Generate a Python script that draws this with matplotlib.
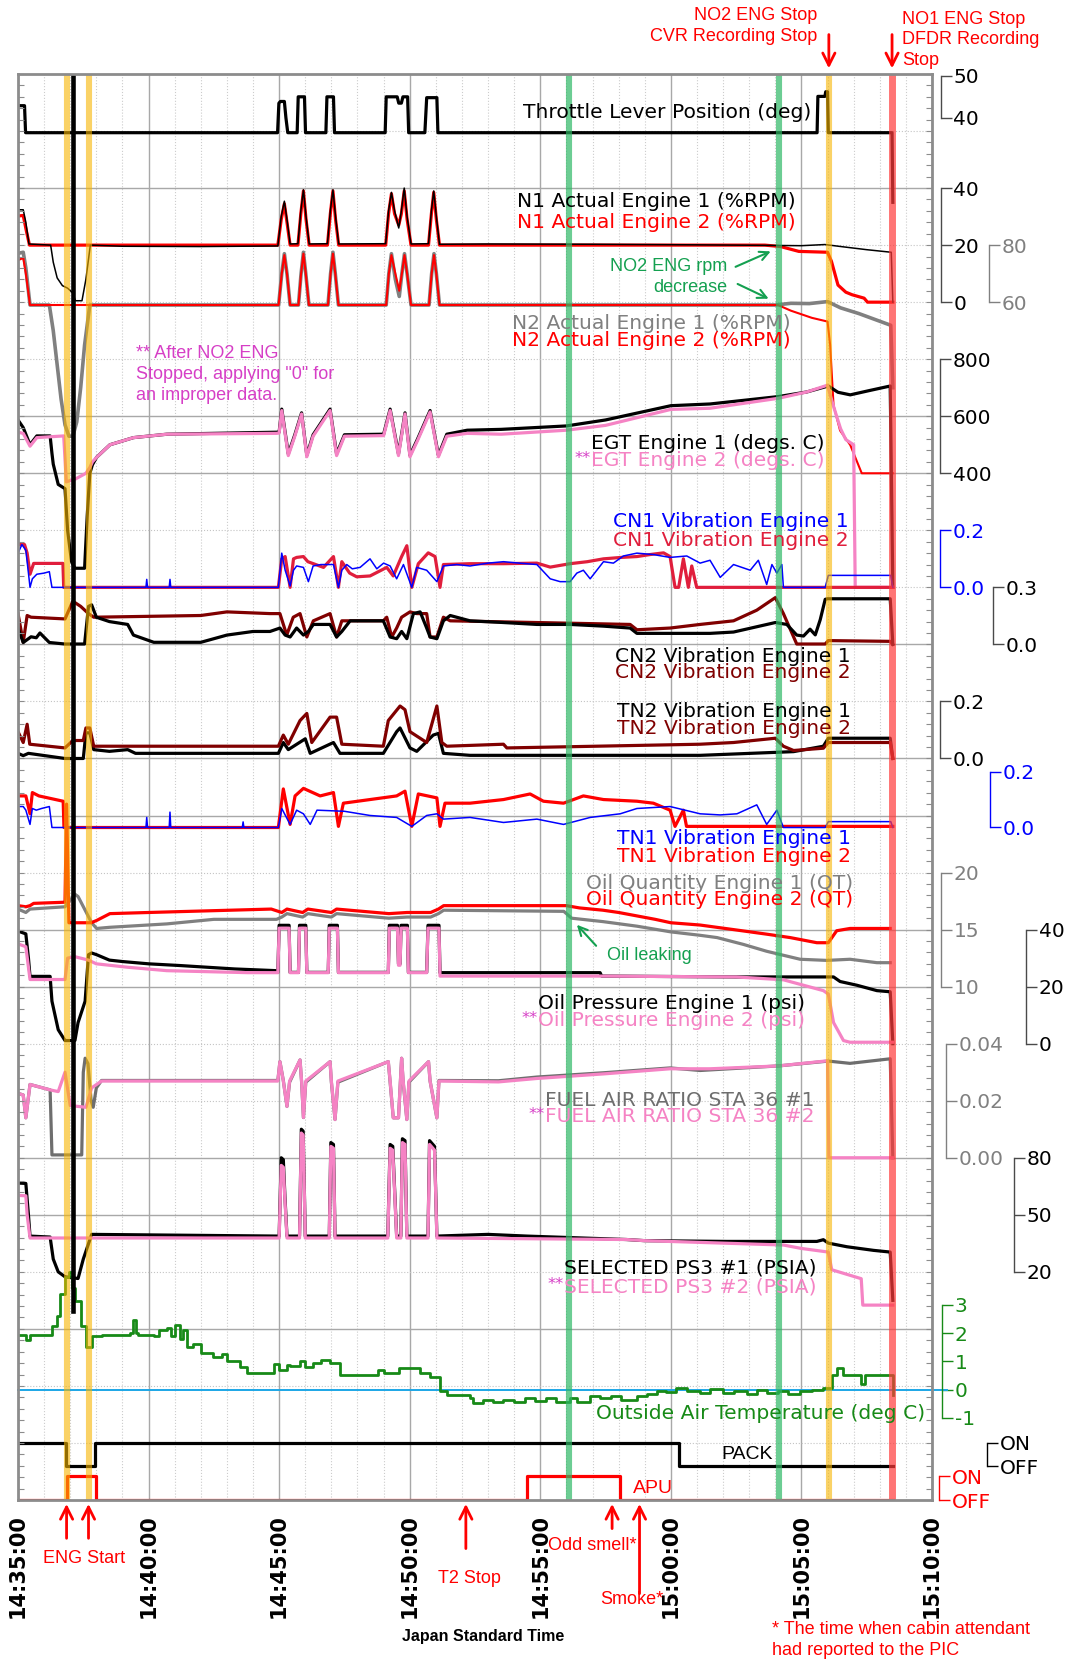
#!/usr/bin/env python3
"""Strip chart of DFDR engine parameters, 14:35-15:10 Japan Standard Time."""

from __future__ import annotations

import matplotlib

matplotlib.use("Agg")
import matplotlib.pyplot as plt
import numpy as np

# ---------------------------------------------------------------------------
# Data: time in minutes after 14:35:00.
# ---------------------------------------------------------------------------
time_ticks = [0, 5, 10, 15, 20, 25, 30, 35]
time_labels = ["14:35:00", "14:40:00", "14:45:00", "14:50:00",
               "14:55:00", "15:00:00", "15:05:00", "15:10:00"]

thr_t = [0, 0.25, 0.29, 9.94, 9.99, 10.05, 10.2, 10.26, 10.33, 10.69, 10.73, 10.97, 11.01,
         11.79, 11.83, 12.08, 12.12, 14.06, 14.1, 14.52, 14.58, 14.68, 14.74, 14.92, 14.96,
         15.58, 15.65, 16.04, 16.08, 30.6, 30.63, 30.9, 30.93, 31.0, 31.03, 33.47, 33.5]
thr_v = [42.9, 42.9, 36.5, 36.5, 43.5, 43.9, 43.9, 40, 36.5, 36.5, 45, 45, 36.5,
         36.5, 45, 45, 36.5, 36.5, 45, 45, 43.5, 43.5, 45, 45, 36.5,
         36.5, 44.8, 44.8, 36.5, 36.5, 45.1, 45.1, 46.2, 46.2, 36.5, 36.5, 20]

n1_e1_t = [0, 0.2, 0.3, 0.42, 1.25, 1.35, 1.5, 1.7, 1.9, 2.1, 2.2, 2.45, 2.6, 2.77, 4.0, 7.0,
           9.95, 10.08, 10.2, 10.3, 10.42, 10.72, 10.83, 10.93, 11.03, 11.15, 11.85, 11.96,
           12.06, 12.16, 12.28, 14.08, 14.19, 14.3, 14.42, 14.58, 14.68, 14.79, 14.9, 15.05,
           15.72, 15.83, 15.92, 16.02, 16.14, 18.0, 22.0, 26.0, 28.8, 30.0, 30.9, 31.6, 32.5,
           33.44, 33.5]
n1_e1_v = [32.4, 32.4, 28, 20.4, 20, 14, 8.5, 5.8, 4.9, 3.2, 0.5, 0.5, 8, 20, 19.6, 19.5,
           19.7, 30, 35.4, 29, 20.4, 20.5, 32, 39.4, 30, 20.4, 20.5, 32,
           39.4, 30, 20.4, 20.5, 32, 38.5, 32, 26, 32, 40, 30, 20.4,
           20.5, 32, 39, 30, 20.3, 20.4, 20.3, 20.1, 19.9, 19.8, 20.2, 19.4, 18.4,
           17.5, 0]
n1_e2_t = [0, 0.2, 0.32, 0.44, 9.95, 10.08, 10.2, 10.3, 10.42, 10.72, 10.83, 10.93, 11.03,
           11.15, 11.85, 11.96, 12.06, 12.16, 12.28, 14.08, 14.19, 14.3, 14.42, 14.58, 14.68,
           14.79, 14.9, 15.05, 15.72, 15.83, 15.92, 16.02, 16.14, 28.6, 29.2, 29.9, 31.0,
           31.15, 31.4, 31.7, 31.94, 32.4, 32.53, 33.5]
n1_e2_v = [30.2, 30.4, 25, 20, 20, 29, 34.5, 28, 20, 20, 31, 39, 29,
           20, 20, 31, 39, 29, 20, 20, 31, 38, 31, 27, 31,
           39, 29, 20, 20, 31, 38.5, 29, 20, 20, 19.5, 17.8, 17.5,
           14.3, 6, 3.5, 2.6, 1.4, 0, 0]

n2_e1_t = [0, 0.2, 0.3, 0.46, 1.2, 1.35, 1.5, 1.65, 1.8, 1.95, 2.1, 2.25, 2.4, 2.55, 2.75,
           9.98, 10.1, 10.2, 10.3, 10.42, 10.74, 10.84, 10.93, 11.02, 11.14, 11.87, 11.97,
           12.06, 12.15, 12.27, 14.1, 14.2, 14.3, 14.45, 14.6, 14.7, 14.8, 14.9, 15.05, 15.74,
           15.84, 15.93, 16.02, 16.14, 29.0, 29.6, 30.3, 31.0, 31.5, 32.2, 33.42, 33.5]
n2_e1_v = [77.1, 77.5, 72, 59, 59, 50, 38, 26, 17, 13, 13, 18, 30, 45, 59,
           59, 70, 77, 70, 59, 59, 70, 77.5, 70, 59, 59, 70,
           77.5, 70, 59, 59, 70, 77, 68, 62, 70, 77, 70, 59, 59,
           70, 77, 70, 59, 59, 59.6, 59.5, 60.2, 58, 56, 51.9, 30]
n2_e2_t = [0, 0.2, 0.3, 0.46, 9.98, 10.1, 10.2, 10.3, 10.42, 10.74, 10.84, 10.93, 11.02,
           11.14, 11.87, 11.97, 12.06, 12.15, 12.27, 14.1, 14.2, 14.3, 14.45, 14.6, 14.7, 14.8,
           14.9, 15.05, 15.74, 15.84, 15.93, 16.02, 16.14, 29.1, 29.6, 30.4, 31.0, 31.1, 31.23,
           31.48, 31.87, 32.31, 33.5]
n2_e2_v = [74.7, 75.5, 70, 59, 59, 70, 76.5, 70, 59, 59, 70, 77, 70,
           59, 59, 70, 77, 70, 59, 59, 70, 76.5, 70, 64, 70, 76.5,
           70, 59, 59, 70, 76.5, 70, 59, 59, 57, 54.5, 53.2, 45, 23.8,
           15, 9.9, 0, 0]

egt_e1_t = [0, 0.2, 0.46, 0.72, 1.23, 1.3, 1.35, 1.54, 1.8, 1.9, 2.05, 2.18, 2.55, 2.65, 2.75,
            2.85, 3.01, 3.52, 4.42, 5.7, 9.9, 10.0, 10.1, 10.35, 10.6, 10.86, 11.06, 11.3,
            11.95, 12.2, 12.5, 14.0, 14.25, 14.57, 14.82, 15.01, 15.3, 15.78, 16.1, 16.42,
            17.2, 18.5, 21.0, 22.5, 25.0, 26.5, 29.12, 30.2, 31.03, 31.4, 31.87, 32.6, 33.4,
            33.5]
egt_e1_v = [587, 560, 500, 531, 531, 470, 432, 361, 346, 200, 90, 67, 67, 250, 400,
            430, 456, 500, 525, 537, 544, 545, 625, 468, 535, 612, 463, 535,
            625, 468, 535, 537, 625, 468, 612, 463, 520, 620, 463, 537,
            551, 554, 566, 587, 637, 643, 669, 685, 706, 684, 675, 690, 706,
            0]
egt_e2_t = [0, 0.2, 0.46, 0.72, 1.75, 1.85, 2.2, 2.6, 2.75, 2.85, 3.01, 3.52, 4.42, 5.7, 9.9,
            10.0, 10.1, 10.35, 10.6, 10.86, 11.06, 11.3, 11.95, 12.2, 12.5, 14.0, 14.25, 14.57,
            14.82, 15.01, 15.3, 15.78, 16.1, 16.42, 17.2, 18.5, 21.0, 22.5, 25.0, 26.5, 29.12,
            30.2, 31.0, 31.2, 31.5, 31.7, 32.0, 32.06, 33.5]
egt_e2_v = [544, 540, 495, 525, 531, 370, 380, 400, 420, 440, 456, 500, 525, 537, 540,
            541, 620, 462, 530, 608, 458, 530, 620, 462, 530, 532, 620, 462,
            608, 458, 515, 615, 458, 530, 540, 537, 551, 568, 624, 628, 663,
            685, 709, 643, 556, 518, 500, 0, 0]

cn1_e1_t = [0, 0.15, 0.3, 0.4, 0.46, 0.55, 0.72, 1.0, 1.2, 1.3, 4.9, 4.93, 4.96, 5.79, 5.82,
            5.85, 9.97, 10.1, 10.23, 10.42, 10.55, 10.67, 10.93, 11.12, 11.3, 11.6, 12.08,
            12.27, 12.4, 12.59, 12.8, 13.1, 13.48, 13.74, 14.0, 14.25, 14.5, 14.76, 15.08,
            15.27, 15.65, 16.04, 16.29, 16.8, 17.31, 18.0, 18.59, 19.2, 19.87, 20.38, 20.76,
            21.14, 21.4, 21.65, 21.91, 22.42, 22.8, 23.18, 23.7, 24.33, 24.97, 25.61, 26.12,
            26.5, 26.89, 27.4, 28.04, 28.35, 28.67, 28.87, 29.06, 29.25, 29.31, 30.91, 31.03,
            33.42, 33.5]
cn1_e1_v = [0.12, 0.15, 0.13, 0.05, 0.0, 0.03, 0.046, 0.05, 0.055, 0.0, 0.0, 0.028, 0.0, 0.0,
            0.028, 0.0, 0.0, 0.12, 0.06, 0.005, 0.06, 0.075, 0.07, 0.02, 0.075, 0.08, 0.08,
            0.0, 0.06, 0.08, 0.065, 0.07, 0.1, 0.065, 0.085, 0.075, 0.03, 0.08, 0.0,
            0.07, 0.06, 0.02, 0.075, 0.08, 0.075, 0.085, 0.09, 0.085, 0.08, 0.03, 0.02,
            0.02, 0.05, 0.06, 0.03, 0.09, 0.085, 0.11, 0.12, 0.115, 0.105, 0.11, 0.085,
            0.095, 0.035, 0.08, 0.06, 0.095, 0.01, 0.08, 0.05, 0.08, 0.0, 0.0, 0.042,
            0.042, 0.0]
cn1_e2_t = [0, 0.25, 0.35, 0.46, 0.6, 1.0, 1.72, 1.75, 9.97, 10.1, 10.23, 10.42, 10.55, 10.67,
            10.93, 11.1, 11.31, 11.7, 12.08, 12.27, 12.4, 12.7, 12.97, 13.48, 14.12, 14.37,
            14.69, 14.89, 15.08, 15.33, 15.71, 15.97, 16.16, 16.29, 17.31, 18.59, 19.87, 20.38,
            21.14, 21.8, 22.42, 23.1, 23.7, 24.2, 24.72, 24.97, 25.16, 25.3, 25.48, 25.67, 25.8,
            25.99, 33.5]
cn1_e2_v = [0.15, 0.15, 0.12, 0.046, 0.084, 0.084, 0.084, 0.0, 0.0, 0.1, 0.108, 0.0, 0.1, 0.105,
            0.108, 0.09, 0.083, 0.07, 0.108, 0.0, 0.09, 0.05, 0.037, 0.04, 0.07, 0.04,
            0.108, 0.146, 0.0, 0.083, 0.121, 0.108, 0.0, 0.08, 0.083, 0.083, 0.085, 0.071,
            0.083, 0.09, 0.1, 0.105, 0.108, 0.115, 0.121, 0.108, 0.0, 0.0, 0.1, 0.0, 0.075,
            0.0, 0.0]

cn2_e1_t = [0, 0.2, 0.5, 0.7, 0.84, 1.2, 1.8, 2.55, 2.7, 2.82, 3.0, 3.5, 4.2, 4.42, 5.2, 7.0,
            8.0, 9.0, 9.65, 10.03, 10.23, 10.42, 10.67, 10.93, 11.12, 11.31, 11.95, 12.2, 12.4,
            12.72, 13.99, 14.25, 14.5, 14.69, 14.89, 15.14, 15.4, 15.65, 15.78, 16.04, 16.29,
            16.55, 17.31, 18.59, 19.87, 21.14, 22.42, 23.44, 23.7, 26.5, 27.4, 29.0, 29.44,
            29.82, 30.08, 30.33, 30.53, 30.72, 30.91, 31.0, 33.4, 33.5]
cn2_e1_v = [0.086, 0.01, 0.04, 0.035, 0.06, 0.01, 0.002, 0.002, 0.2, 0.208, 0.143, 0.12, 0.105,
            0.049, 0.011, 0.011, 0.049, 0.068, 0.068, 0.086, 0.049, 0.039, 0.086, 0.049, 0.068,
            0.105, 0.105, 0.039, 0.068, 0.124, 0.124, 0.039, 0.03, 0.068, 0.03, 0.162, 0.171,
            0.086, 0.039, 0.03, 0.124, 0.152, 0.124, 0.115, 0.105, 0.105, 0.096, 0.086, 0.058,
            0.058, 0.065, 0.115, 0.105, 0.049, 0.044, 0.08, 0.05, 0.13, 0.237, 0.24, 0.24, 0.0]
cn2_e2_t = [0, 0.2, 0.35, 0.5, 1.8, 2.1, 2.4, 2.7, 2.9, 7.0, 8.0, 9.65, 10.03, 10.29, 10.54,
            10.8, 11.06, 11.31, 11.95, 12.2, 12.4, 13.99, 14.12, 14.31, 14.5, 14.69, 15.01,
            15.27, 15.65, 15.78, 16.04, 16.29, 16.55, 19.87, 23.44, 23.7, 24.97, 26.12, 27.4,
            28.29, 29.0, 29.31, 29.82, 30.91, 31.03, 33.4, 33.5]
cn2_e2_v = [0.162, 0.011, 0.152, 0.143, 0.134, 0.227, 0.2, 0.162, 0.143, 0.152, 0.171, 0.162,
            0.162, 0.049, 0.143, 0.162, 0.039, 0.124, 0.162, 0.039, 0.124, 0.124, 0.143, 0.039,
            0.086, 0.143, 0.171, 0.162, 0.162, 0.039, 0.039, 0.143, 0.124, 0.115, 0.105, 0.077,
            0.086, 0.105, 0.124, 0.18, 0.246, 0.162, 0.002, 0.002, 0.02, 0.016, 0.0]

tn2_e1_t = [0, 0.2, 0.4, 1.8, 2.5, 2.6, 2.75, 2.9, 3.5, 4.2, 4.5, 9.97, 10.16, 10.35, 11.0,
            11.19, 12.08, 12.33, 13.99, 14.5, 14.63, 15.01, 15.27, 15.9, 16.1, 16.29, 17.31,
            26.12, 29.7, 30.84, 31.03, 33.4, 33.5]
tn2_e1_v = [0.018, 0.01, 0.018, 0.0, 0.0, 0.09, 0.09, 0.031, 0.025, 0.031, 0.018, 0.018, 0.056,
            0.031, 0.069, 0.018, 0.056, 0.018, 0.018, 0.094, 0.107, 0.037, 0.025, 0.082, 0.088,
            0.018, 0.011, 0.011, 0.024, 0.043, 0.071, 0.071, 0.0]
tn2_e2_t = [0, 0.2, 0.35, 0.45, 1.8, 2.1, 2.5, 2.6, 2.75, 2.9, 9.97, 10.16, 10.35, 10.8, 11.06,
            11.25, 11.95, 12.2, 12.4, 13.99, 14.18, 14.63, 14.82, 15.01, 15.65, 16.04, 16.23,
            16.42, 18.59, 18.72, 26.12, 27.4, 29.0, 29.31, 29.7, 30.84, 31.03, 33.4, 33.5]
tn2_e2_v = [0.094, 0.056, 0.12, 0.05, 0.037, 0.063, 0.063, 0.107, 0.107, 0.043, 0.043, 0.082,
            0.05, 0.133, 0.158, 0.056, 0.145, 0.145, 0.05, 0.043, 0.133, 0.184, 0.171, 0.094,
            0.056, 0.184, 0.056, 0.043, 0.05, 0.037, 0.05, 0.056, 0.071, 0.043, 0.028, 0.036,
            0.056, 0.056, 0.0]

tn1_e1_t = [0, 0.2, 0.3, 0.46, 0.55, 0.7, 0.9, 1.2, 1.3, 4.9, 4.93, 4.96, 5.79, 5.82, 5.85,
            8.59, 8.62, 8.65, 9.97, 10.1, 10.42, 10.67, 10.93, 11.19, 11.45, 12.5, 13.48, 14.5,
            15.08, 15.65, 16.04, 16.29, 17.31, 18.59, 19.87, 20.89, 21.91, 23.06, 23.7, 24.97,
            26.12, 26.89, 27.53, 28.29, 28.67, 29.06, 29.31, 30.91, 31.03, 33.42, 33.5]
tn1_e1_v = [0.075, 0.075, 0.062, 0.011, 0.068, 0.062, 0.068, 0.075, 0.0, 0.0, 0.036, 0.0, 0.0,
            0.055, 0.0, 0.0, 0.02, 0.0, 0.0, 0.068, 0.011, 0.062, 0.049, 0.011, 0.062, 0.058,
            0.043, 0.036, 0.004, 0.043, 0.049, 0.03, 0.036, 0.018, 0.03, 0.011, 0.036, 0.049,
            0.068, 0.075, 0.049, 0.045, 0.049, 0.081, 0.011, 0.062, 0.0, 0.0, 0.021, 0.021, 0.0]
tn1_e2_t = [0, 0.3, 0.46, 0.55, 0.8, 1.73, 1.76, 9.97, 10.16, 10.42, 10.61, 10.93, 11.57, 12.08,
            12.27, 12.46, 13.48, 14.5, 14.82, 15.08, 15.33, 16.04, 16.16, 16.35, 17.31, 18.59,
            19.61, 20.12, 20.89, 21.65, 22.42, 23.7, 24.33, 24.97, 25.16, 25.48, 25.6, 25.73,
            33.5]
tn1_e2_v = [0.113, 0.113, 0.049, 0.125, 0.113, 0.094, 0.0, 0.0, 0.138, 0.011, 0.113, 0.14, 0.113,
            0.125, 0.004, 0.087, 0.1, 0.113, 0.13, 0.004, 0.12, 0.106, 0.004, 0.087, 0.087, 0.1,
            0.12, 0.094, 0.087, 0.113, 0.1, 0.094, 0.087, 0.062, 0.004, 0.062, 0.004, 0.004,
            0.004]

oilq_e1_t = [0, 0.3, 0.46, 1.8, 2.18, 2.3, 2.82, 3.01, 3.5, 5.7, 7.5, 9.9, 10.1, 10.3, 10.9,
             11.1, 12.0, 12.2, 14.2, 14.9, 15.8, 16.1, 16.3, 20.9, 21.2, 22.4, 23.7, 25.0,
             26.12, 26.77, 27.78, 28.67, 29.95, 30.97, 31.86, 32.89, 33.4]
oilq_e1_v = [16.8, 16.5, 16.8, 17.0, 18.1, 17.9, 15.6, 15.1, 15.2, 15.5, 15.9, 15.9, 16.1, 16.4,
             16.1, 16.4, 16.1, 16.4, 16.0, 16.1, 16.1, 16.4, 16.7, 16.6, 16.0, 15.7, 15.3, 14.8,
             14.5, 14.3, 13.7, 13.1, 12.4, 12.3, 12.4, 12.1, 12.1]
oilq_e2_t = [0, 0.3, 0.46, 0.6, 1.8, 1.86, 1.95, 2.8, 3.01, 3.52, 5.0, 9.7, 10.1, 10.3, 10.9,
             11.1, 12.0, 12.2, 14.2, 14.9, 15.8, 16.1, 16.3, 21.0, 21.5, 22.4, 23.0, 23.7, 24.4,
             25.0, 26.12, 27.4, 28.67, 29.57, 30.59, 31.03, 31.35, 31.86, 33.4]
oilq_e2_v = [17.1, 17.0, 17.1, 17.3, 17.4, 26, 15.6, 15.6, 15.8, 16.4, 16.5, 16.8, 16.5, 16.8,
             16.5, 16.8, 16.5, 16.8, 16.4, 16.5, 16.5, 16.8, 17.1, 17.1, 16.9, 16.7, 16.5, 16.2,
             15.9, 15.6, 15.4, 15.0, 14.6, 14.3, 13.85, 13.85, 14.9, 15.1, 15.1]

oilp_e1_t = [0, 0.3, 0.4, 0.46, 1.23, 1.3, 1.54, 1.8, 2.18, 2.3, 2.57, 2.7, 2.82, 3.01, 3.5, 4.0,
             5.0, 6.2, 8.3, 9.9, 9.95, 10.0, 10.38, 10.42, 10.74, 10.78, 11.02, 11.06, 11.88,
             11.92, 12.23, 12.27, 14.18, 14.22, 14.53, 14.57, 14.63, 14.67, 14.91, 14.95, 15.65,
             15.7, 16.12, 16.16, 22.29, 22.35, 27.65, 31.23, 31.48, 32.12, 32.89, 33.4, 33.5]
oilp_e1_v = [39.5, 38.5, 30, 23.6, 23.6, 14.9, 4.9, 1.1, 1.1, 7.4, 14.9, 31.2, 31.8, 31.2, 29.3,
             28.8, 28.0, 27.4, 26.2, 25.6, 25, 41.5, 41.5, 25, 25, 41.5, 41.5, 25, 25,
             41.5, 41.5, 25, 25, 41.5, 41.5, 28, 28, 41.5, 41.5, 25, 25,
             41.5, 41.5, 24.9, 24.9, 23.7, 23.4, 23.4, 21.8, 20.5, 18.6, 18.2, 0]
oilp_e2_t = [0, 0.3, 0.46, 1.8, 1.9, 2.18, 2.7, 3.0, 4.2, 5.7, 8.8, 9.95, 10.0, 10.38, 10.42,
             10.74, 10.78, 11.02, 11.06, 11.88, 11.92, 12.23, 12.27, 14.18, 14.22, 14.53, 14.57,
             14.63, 14.67, 14.91, 14.95, 15.65, 15.7, 16.12, 16.16, 22.3, 27.5, 29.31, 30.84,
             31.03, 31.23, 31.61, 31.86, 33.5]
oilp_e2_v = [35, 34, 22.5, 22.5, 30, 30.5, 29.3, 28, 26.8, 25.6, 24.9, 24.9, 40.5, 40.5, 24.9,
             24.9, 40.5, 40.5, 24.9, 24.9, 40.5, 40.5, 24.9, 24.9, 40.5, 40.5, 27.5,
             27.5, 40.5, 40.5, 24.9, 24.9, 40.5, 40.5, 23.7, 23.7, 23.4, 22.4, 18.6,
             17.4, 7.4, 1.1, 0.5, 0.5]

far_e1_t = [0, 0.2, 0.3, 0.46, 1.23, 1.3, 2.44, 2.5, 2.57, 2.68, 2.8, 2.88, 3.0, 3.2, 9.95, 10.03,
            10.16, 10.3, 10.4, 10.8, 10.86, 10.93, 11.02, 11.95, 12.0, 12.14, 12.25, 14.18, 14.25,
            14.37, 14.57, 14.69, 14.75, 14.89, 14.97, 15.72, 15.78, 16.04, 16.12, 18.4, 19.87,
            22.42, 24.97, 26.12, 29.12, 31.03, 31.86, 33.4, 33.5]
far_e1_v = [0.0226, 0.022, 0.014, 0.0257, 0.0238, 0.001, 0.001, 0.03, 0.0349, 0.033, 0.02, 0.0177,
            0.0245, 0.0271, 0.0271, 0.0337, 0.0271, 0.018, 0.0265, 0.0343, 0.0265, 0.0141, 0.0265,
            0.0337, 0.0265, 0.0134, 0.0265, 0.0337, 0.0265, 0.014, 0.014, 0.0349, 0.0265, 0.0134,
            0.0265, 0.0337, 0.0269, 0.014, 0.0271, 0.027, 0.0283, 0.0298, 0.0315, 0.0306, 0.0322,
            0.0339, 0.0331, 0.0347, 0.0]
far_e2_t = [0, 0.2, 0.3, 0.46, 1.23, 1.54, 1.8, 2.0, 2.6, 2.82, 3.2, 9.95, 10.03, 10.16, 10.3,
            10.4, 10.8, 10.86, 10.93, 11.02, 11.95, 12.0, 12.14, 12.25, 14.18, 14.25, 14.37,
            14.57, 14.69, 14.75, 14.89, 14.97, 15.72, 15.78, 16.04, 16.12, 18.4, 19.87, 22.42,
            24.97, 26.5, 29.12, 31.0, 31.05, 33.5]
far_e2_v = [0.0226, 0.022, 0.014, 0.0257, 0.0238, 0.0232, 0.03, 0.0183, 0.0177, 0.0245, 0.0269,
            0.0269, 0.0337, 0.0269, 0.018, 0.0269, 0.0343, 0.0269, 0.0141, 0.0269, 0.0337, 0.0269,
            0.0134, 0.0269, 0.0337, 0.0269, 0.014, 0.014, 0.0349, 0.0269, 0.0134, 0.0269, 0.0337,
            0.0269, 0.014, 0.0269, 0.0266, 0.0278, 0.0294, 0.0312, 0.0312, 0.0322, 0.034, 0.0,
            0.0]

ps3_e1_t = [0, 0.3, 0.4, 0.46, 1.23, 1.35, 1.54, 1.8, 2.3, 2.5, 2.82, 10.0, 10.08, 10.16, 10.22,
            10.3, 10.78, 10.85, 10.92, 11.0, 11.92, 11.98, 12.08, 12.14, 14.16, 14.25, 14.35,
            14.5, 14.66, 14.72, 14.82, 14.89, 15.7, 15.76, 15.95, 16.04, 18.0, 19.5, 23.3, 24.0,
            27.14, 30.59, 30.84, 31.03, 31.74, 32.76, 33.4, 33.5]
ps3_e1_v = [66.7, 66.5, 50, 38.8, 38.3, 26.7, 20, 17.4, 16.5, 26.7, 39.7, 38.8, 80, 79, 60,
            38.8, 38.8, 95, 94, 38.8, 38.8, 88, 87, 38.8, 38.8, 87, 86,
            38.8, 38.8, 90, 89, 38.8, 38.8, 89, 86, 38.8, 39.7, 38.8, 37, 36.4,
            36, 36, 36.9, 35.1, 33.2, 31.3, 30.4, 5]
ps3_e2_t = [0, 0.3, 0.35, 0.46, 10.0, 10.08, 10.16, 10.22, 10.3, 10.78, 10.85, 10.92, 11.0,
            11.92, 11.98, 12.08, 12.14, 14.16, 14.25, 14.35, 14.5, 14.66, 14.72, 14.82, 14.89,
            15.7, 15.76, 15.95, 16.04, 23.3, 24.0, 29.31, 30.0, 31.03, 31.16, 32.29, 32.35, 33.5]
ps3_e2_v = [60.2, 60, 50, 37.8, 37.8, 76, 75, 58, 37.8, 37.8, 93, 92, 37.8,
            37.8, 86, 85, 37.8, 37.8, 85, 84, 37.8, 37.8, 88, 87, 37.8,
            37.8, 87, 84, 37.8, 37, 36.4, 34.1, 32.3, 30.4, 21.1, 16.4, 2.5, 2.5]

oat_t = [0, 0.3, 0.45, 1.23, 1.3, 1.5, 1.6, 1.8, 1.95, 2.05,
         2.18, 2.4, 2.6, 2.82, 3.2, 4.0, 4.3, 4.42, 4.5, 4.6,
         5.2, 5.4, 5.7, 5.85, 6.0, 6.2, 6.3, 6.46, 6.7, 7.0,
         7.48, 7.8, 8.0, 8.25, 8.5, 8.76, 9.2, 9.53, 9.8, 10.0,
         10.29, 10.42, 10.8, 11.0, 11.31, 11.6, 11.95, 12.33, 12.8, 13.48,
         13.8, 14.0, 14.25, 14.6, 15.01, 15.4, 15.78, 16.16, 16.42, 16.9,
         17.31, 17.43, 17.8, 18.2, 18.59, 19.0, 19.4, 19.8, 20.2, 20.6,
         21.14, 21.4, 21.91, 22.3, 22.7, 23.1, 23.7, 24.1, 24.46, 24.8,
         25.2, 25.6, 26.12, 26.5, 27.0, 27.4, 27.9, 28.3, 28.67, 29.1,
         29.5, 29.95, 30.4, 30.84, 31.16, 31.35, 31.6, 31.99, 32.29, 32.42,
         33.27, 33.5]
oat_v = [1.95, 1.75, 1.95, 1.95, 2.27, 2.6, 3.39, 4.0, 4.15, 3.6,
         3.14, 2.27, 1.52, 1.89, 1.95, 1.95, 2.0, 2.46, 2.0, 1.95,
         1.89, 2.1, 2.2, 1.9, 2.3, 1.8, 2.1, 1.52, 1.6, 1.3,
         1.14, 1.25, 1.0, 1.01, 0.8, 0.58, 0.58, 0.58, 0.89, 0.7,
         0.88, 0.82, 1.0, 0.8, 0.95, 1.05, 0.95, 0.51, 0.51, 0.51,
         0.7, 0.58, 0.58, 0.76, 0.76, 0.6, 0.45, -0.05, -0.18, -0.18,
         -0.3, -0.49, -0.36, -0.45, -0.36, -0.45, -0.3, -0.4, -0.3, -0.45,
         -0.3, -0.43, -0.24, -0.3, -0.24, -0.36, -0.24, -0.15, -0.05, -0.1,
         0.05, -0.05, -0.11, 0.01, -0.12, -0.05, -0.15, 0.0, -0.11, -0.05,
         -0.15, -0.05, 0.0, 0.07, 0.51, 0.76, 0.51, 0.51, 0.2, 0.51,
         0.51, -0.2]

pack_t = [0, 1.84, 2.96, 25.3, 33.5]
pack_v = [1, 0, 1, 0, 0]
apu_t = [0, 1.86, 2.98, 19.5, 23.07, 33.5]
apu_v = [0, 1, 0, 1, 0, 0]

# event times (minutes after 14:35:00)
eng_start_t = [1.86, 2.70]
no2_stop_t = 31.05
no1_stop_t = 33.47
green_mark_t = [21.1, 29.13]
start_bar_t = 2.1
t2_stop_t = 17.15
odd_smell_t = 22.75
smoke_t = 23.8

# ---------------------------------------------------------------------------
W_PX, H_PX = 1065, 1661
PLOT_L, PLOT_R, PLOT_T, PLOT_B = 18, 932, 74, 1500
N_ROWS = 25
T_END = 35

RED = "#FF0000"
GREY = "#808080"
PINK = "#F583C4"
BLUE = "#0000FF"
CRIMSON = "#E01E3C"
MAROON = "#800000"
GREEN = "#178A17"
NOTE_GREEN = "#14A050"
MAGENTA = "#D63FC6"
AXIS_DARK = "#4A4A4A"

LABEL_FS = 14.6
TICK_FS = 14.5
NOTE_FONT = "Liberation Sans"


def main() -> int:
    plt.rcParams.update({"font.family": ["DejaVu Sans"], "lines.solid_joinstyle": "round"})
    fig = plt.figure(figsize=(W_PX / 100, H_PX / 100), dpi=100)
    rect = [PLOT_L / W_PX, 1 - PLOT_B / H_PX,
            (PLOT_R - PLOT_L) / W_PX, (PLOT_B - PLOT_T) / H_PX]

    # background grid
    bg = fig.add_axes(rect, zorder=0)
    bg.set_xlim(0, T_END)
    bg.set_ylim(N_ROWS, 0)
    bg.set_xticks(time_ticks)
    bg.set_xticks(range(0, T_END + 1), minor=True)
    bg.grid(which="major", axis="x", color="#A8A8A8", lw=1.0)
    bg.grid(which="minor", axis="x", color="#CCCCCC", lw=0.8, ls=":")
    for r in [2, 6, 7, 10, 12, 13, 15, 16, 19, 20, 22]:
        bg.axhline(r, color="#A8A8A8", lw=1.0)
    for r in [1, 3, 4, 5, 8, 9, 11, 14, 17, 18, 21, 23, 24]:
        bg.axhline(r, color="#C4C4C4", lw=0.8, ls=":")
    bg.tick_params(which="both", length=0, labelbottom=False, labelleft=False)
    for sp in bg.spines.values():
        sp.set_visible(False)

    zorder = [1]

    def add_panel(hi, lo, ticks, labels, color, offset_px, label_color=None):
        (v_hi, r_hi), (v_lo, r_lo) = hi, lo
        per_row = (v_hi - v_lo) / (r_lo - r_hi)
        pax = fig.add_axes(rect, zorder=zorder[0], sharex=bg)
        zorder[0] += 1
        pax.set_ylim(v_hi - (N_ROWS - r_hi) * per_row, v_hi + r_hi * per_row)
        pax.patch.set_visible(False)
        pax.xaxis.set_visible(False)
        for side in ("left", "top", "bottom"):
            pax.spines[side].set_visible(False)
        sp = pax.spines["right"]
        sp.set_position(("outward", offset_px * 0.72))
        sp.set_bounds(min(ticks), max(ticks))
        sp.set_color(color)
        sp.set_linewidth(1.0)
        pax.yaxis.tick_right()
        pax.set_yticks(ticks, labels)
        pax.tick_params(axis="y", direction="out", length=8, width=1.0, color=color,
                        labelcolor=label_color or color, labelsize=TICK_FS, pad=1)
        return pax

    lw_thick, lw_thin = 2.3, 1.1

    p = add_panel((50, 0.03), (40, 0.77), [50, 40], ["50", "40"], AXIS_DARK, 9, "black")
    p.plot(thr_t, thr_v, color="black", lw=lw_thick)

    p = add_panel((40, 2), (0, 4), [40, 20, 0], ["40", "20", "0"], AXIS_DARK, 9, "black")
    p.plot(n1_e2_t, n1_e2_v, color=RED, lw=lw_thick)
    p.plot(n1_e1_t, n1_e1_v, color="black", lw=lw_thin)

    p = add_panel((80, 3), (60, 4), [80, 60], ["80", "60"], GREY, 57)
    p.plot(n2_e1_t, n2_e1_v, color=GREY, lw=2.6)
    p.plot(n2_e2_t, n2_e2_v, color=RED, lw=1.5)

    p = add_panel((800, 5), (400, 7), [800, 600, 400], ["800", "600", "400"], AXIS_DARK, 8, "black")
    p.plot(egt_e1_t, egt_e1_v, color="black", lw=lw_thick)
    p.plot(egt_e2_t, egt_e2_v, color=PINK, lw=lw_thick)

    p = add_panel((0.2, 8), (0.0, 9), [0.2, 0.0], ["0.2", "0.0"], BLUE, 8)
    p.plot(cn1_e2_t, cn1_e2_v, color=CRIMSON, lw=lw_thick)
    p.plot(cn1_e1_t, cn1_e1_v, color=BLUE, lw=lw_thin)

    p = add_panel((0.3, 9), (0.0, 10), [0.3, 0.0], ["0.3", "0.0"], AXIS_DARK, 61, "black")
    p.plot(cn2_e2_t, cn2_e2_v, color=MAROON, lw=lw_thick)
    p.plot(cn2_e1_t, cn2_e1_v, color="black", lw=lw_thick)

    p = add_panel((0.2, 11), (0.0, 12), [0.2, 0.0], ["0.2", "0.0"], AXIS_DARK, 8, "black")
    p.plot(tn2_e1_t, tn2_e1_v, color="black", lw=lw_thick)
    p.plot(tn2_e2_t, tn2_e2_v, color=MAROON, lw=lw_thick)

    p = add_panel((0.2, 12.23), (0.0, 13.21), [0.2, 0.0], ["0.2", "0.0"], BLUE, 58)
    p.plot(tn1_e2_t, tn1_e2_v, color=RED, lw=lw_thick)
    p.plot(tn1_e1_t, tn1_e1_v, color=BLUE, lw=lw_thin)

    p = add_panel((20, 14), (10, 16), [20, 15, 10], ["20", "15", "10"], GREY, 9)
    p.plot(oilq_e1_t, oilq_e1_v, color=GREY, lw=lw_thick)
    p.plot(oilq_e2_t, oilq_e2_v, color=RED, lw=lw_thick)

    p = add_panel((40, 15), (0, 17), [40, 20, 0], ["40", "20", "0"], AXIS_DARK, 94, "black")
    p.plot(oilp_e1_t, oilp_e1_v, color="black", lw=lw_thick)
    p.plot(oilp_e2_t, oilp_e2_v, color=PINK, lw=lw_thick)

    p = add_panel((0.04, 17), (0.0, 19), [0.04, 0.02, 0.0], ["0.04", "0.02", "0.00"], GREY, 14)
    p.plot(far_e1_t, far_e1_v, color="#6E6E6E", lw=lw_thick)
    p.plot(far_e2_t, far_e2_v, color=PINK, lw=lw_thick)

    p = add_panel((80, 19), (20, 21), [80, 50, 20], ["80", "50", "20"], AXIS_DARK, 82, "black")
    p.plot(ps3_e1_t, ps3_e1_v, color="black", lw=lw_thick)
    p.plot(ps3_e2_t, ps3_e2_v, color=PINK, lw=lw_thick)

    p = add_panel((3, 21.58), (-1, 23.56), [3, 2, 1, 0, -1], ["3", "2", "1", "0", "-1"], GREEN, 10)
    p.axhline(0, xmin=0, xmax=1.016, color="#1CA6E6", lw=1.4, clip_on=False)
    p.plot(oat_t, oat_v, color=GREEN, lw=2.0, drawstyle="steps-post")

    p = add_panel((1, 24.0), (0, 24.41), [1, 0], ["ON", "OFF"], "black", 55)
    p.plot(pack_t, pack_v, color="black", lw=lw_thick, drawstyle="steps-post")

    p = add_panel((1, 24.62), (0, 25.04), [1, 0], ["ON", "OFF"], RED, 7)
    p.plot(apu_t, apu_v, color=RED, lw=lw_thick, drawstyle="steps-post")

    # overlay: frame, time labels, event bands, notes
    ax = fig.add_axes(rect, zorder=60, sharex=bg)
    ax.set_ylim(N_ROWS, 0)
    ax.patch.set_visible(False)
    for sp in ax.spines.values():
        sp.set_color("#8C8C8C")
        sp.set_linewidth(2.0)
    ax.set_xticks(time_ticks, time_labels, rotation=90, fontsize=15, fontweight="bold")
    ax.tick_params(axis="x", which="both", length=0, pad=10)
    ax.set_yticks(np.arange(0, N_ROWS + 0.01, 0.2))
    ax.tick_params(axis="y", direction="in", length=4, width=0.8, color="#8C8C8C",
                   left=True, right=True, labelleft=False)

    ax.axvline(start_bar_t, ymin=(N_ROWS - 21.68) / N_ROWS, ymax=1, color="black", lw=3.3, zorder=1)
    for t in eng_start_t + [no2_stop_t]:
        ax.axvline(t, color="#F7B500", alpha=0.6, lw=4.4, zorder=2)
    for t in green_mark_t:
        ax.axvline(t, color="#2EB865", alpha=0.7, lw=4.4, zorder=2)
    ax.axvline(no1_stop_t, color="#FF3B3B", alpha=0.7, lw=5.0, zorder=2)

    def label(text, color, x, row, star=False):
        txt = ax.text(x, row, text, color=color, ha="right", va="center", fontsize=LABEL_FS, zorder=5)
        if star:
            ax.annotate("**", xy=(0, 0.6), xycoords=txt, ha="right", va="center",
                        color=MAGENTA, fontsize=LABEL_FS * 0.8)

    label("Throttle Lever Position (deg)", "black", 30.37, 0.68)
    label("N1 Actual Engine 1 (%RPM)", "black", 29.76, 2.23)
    label("N1 Actual Engine 2 (%RPM)", RED, 29.76, 2.6)
    label("N2 Actual Engine 1 (%RPM)", GREY, 29.57, 4.38)
    label("N2 Actual Engine 2 (%RPM)", RED, 29.57, 4.68)
    label("EGT Engine 1 (degs. C)", "black", 30.87, 6.47)
    label("EGT Engine 2 (degs. C)", PINK, 30.87, 6.78, star=True)
    label("CN1 Vibration Engine 1", BLUE, 31.79, 7.84)
    label("CN1 Vibration Engine 2", CRIMSON, 31.79, 8.17)
    label("CN2 Vibration Engine 1", "black", 31.9, 10.22)
    label("CN2 Vibration Engine 2", MAROON, 31.9, 10.5)
    label("TN2 Vibration Engine 1", "black", 31.9, 11.17)
    label("TN2 Vibration Engine 2", MAROON, 31.9, 11.48)
    label("TN1 Vibration Engine 1", BLUE, 31.9, 13.41)
    label("TN1 Vibration Engine 2", RED, 31.9, 13.71)
    label("Oil Quantity Engine 1 (QT)", GREY, 31.98, 14.2)
    label("Oil Quantity Engine 2 (QT)", RED, 31.98, 14.48)
    label("Oil Pressure Engine 1 (psi)", "black", 30.14, 16.29)
    label("Oil Pressure Engine 2 (psi)", PINK, 30.14, 16.6, star=True)
    label("FUEL AIR RATIO STA 36 #1", "#6E6E6E", 30.49, 17.99)
    label("FUEL AIR RATIO STA 36 #2", PINK, 30.49, 18.27, star=True)
    label("SELECTED PS3 #1 (PSIA)", "black", 30.56, 20.93)
    label("SELECTED PS3 #2 (PSIA)", PINK, 30.56, 21.26, star=True)
    label("Outside Air Temperature (deg C)", GREEN, 34.74, 23.49)
    ax.text(27.92, 24.2, "PACK", color="black", ha="center", va="center",
            fontsize=14, family=NOTE_FONT, zorder=5)
    ax.text(23.55, 24.8, "APU", color=RED, ha="left", va="center",
            fontsize=14, family=NOTE_FONT, zorder=5)

    note = dict(family=NOTE_FONT, fontsize=13, zorder=5)
    ax.text(4.52, 5.27, '** After NO2 ENG\nStopped, applying "0" for\nan improper data.',
            color=MAGENTA, ha="left", va="center", linespacing=1.3, **note)
    ax.text(27.15, 3.38, "NO2 ENG rpm", color=NOTE_GREEN, ha="right", va="center", **note)
    ax.text(27.15, 3.75, "decrease", color=NOTE_GREEN, ha="right", va="center", **note)
    green_arrow = dict(arrowstyle="->", color=NOTE_GREEN, lw=1.5, mutation_scale=16)
    ax.annotate("", xy=(28.92, 3.09), xytext=(27.38, 3.4), arrowprops=green_arrow)
    ax.annotate("", xy=(28.84, 3.96), xytext=(27.46, 3.66), arrowprops=green_arrow)
    ax.text(24.17, 15.45, "Oil leaking", color=NOTE_GREEN, ha="center", va="center", **note)
    ax.annotate("", xy=(21.33, 14.88), xytext=(22.21, 15.32), arrowprops=green_arrow)

    red_arrow = dict(arrowstyle="->", color=RED, lw=2.0, mutation_scale=22)
    ax.text(30.6, -1.03, "NO2 ENG Stop", color=RED, ha="right", va="center", **note)
    ax.text(30.6, -0.65, "CVR Recording Stop", color=RED, ha="right", va="center", **note)
    ax.text(33.86, -0.6, "NO1 ENG Stop\nDFDR Recording\nStop", color=RED, ha="left",
            va="center", linespacing=1.25, **note)
    for t in (no2_stop_t, no1_stop_t):
        ax.annotate("", xy=(t, -0.05), xytext=(t, -0.74), arrowprops=red_arrow,
                    annotation_clip=False)

    for t, tail in ((eng_start_t[0], 25.72), (eng_start_t[1], 25.72), (t2_stop_t, 25.9),
                    (odd_smell_t, 25.55), (smoke_t, 26.69)):
        ax.annotate("", xy=(t, 25.02), xytext=(t, tail), arrowprops=red_arrow,
                    annotation_clip=False)
    ax.text(2.53, 26.02, "ENG Start", color=RED, ha="center", va="center", **note)
    ax.text(17.27, 26.37, "T2 Stop", color=RED, ha="center", va="center", **note)
    ax.text(21.98, 25.79, "Odd smell*", color=RED, ha="center", va="center", **note)
    ax.text(23.52, 26.75, "Smoke*", color=RED, ha="center", va="center", **note)
    ax.text(28.88, 27.45, "* The time when cabin attendant\nhad reported to the PIC",
            color=RED, ha="left", va="center", linespacing=1.3, **note)
    ax.text(17.81, 27.4, "Japan Standard Time", color="black", ha="center", va="center",
            family=NOTE_FONT, fontsize=11.5, fontweight="bold")

    fig.savefig("out.png", dpi=100, facecolor="white")
    plt.close(fig)
    return 0


if __name__ == "__main__":
    raise SystemExit(main())
